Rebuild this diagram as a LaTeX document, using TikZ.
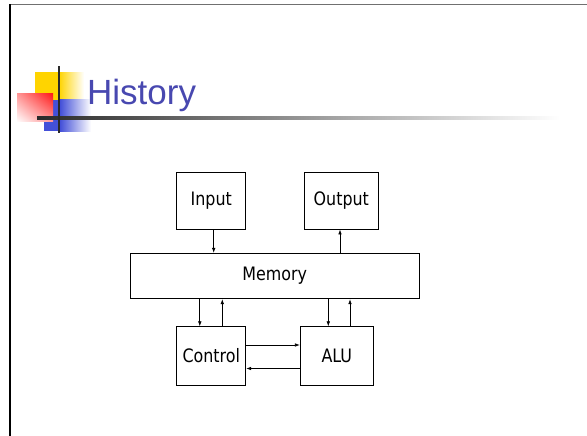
\documentclass[tikz,border=0pt]{standalone}
\usepackage{fontspec}
\setmainfont{DejaVu Sans}[FakeStretch=0.86]
\newfontfamily\titlefont{Liberation Sans}
\usepackage{xcolor}
\usepackage{tikz}
\usetikzlibrary{arrows.meta,positioning,calc,shadings}
\definecolor{cTitle}{HTML}{4848B0}
\definecolor{cYellow}{HTML}{FFD400}
\definecolor{cRed}{HTML}{FF1A1A}
\definecolor{cBlue}{HTML}{4450D8}
\definecolor{cRule}{HTML}{2A2A2A}
\definecolor{cFrame}{HTML}{707070}
\tikzset{
  unit/.style={draw=black,line width=0.8pt,fill=white,align=center,inner sep=0pt,font=\fontsize{18.5}{22}\selectfont},
  arr/.style={-{Latex[length=5pt,width=3.6pt]},line width=0.7pt},
}

\begin{document}
\begin{tikzpicture}[x=1pt,y=-1pt]
  \useasboundingbox (0,0) rectangle (587,436);
  % slide frame
  \draw[cFrame,line width=1.8pt] (9.5,4.5) -- (587,4.5);
  \draw[black,line width=1.3pt] (10,4.5) -- (10,436);
  % title ornament
  \fill[cYellow] (35,72.5) rectangle (59,100);
  \shade[left color=cYellow,right color=white] (59,72.5) rectangle (84,100);
  \fill[cBlue] (44,100) rectangle (60,131);
  \shade[left color=cBlue,right color=white] (60,100) rectangle (91,131);
  \shade[upper right=cRed,lower left=white,upper left=cRed!45,lower right=cRed!45] (17,94) rectangle (53,122);
  \shade[left color=cRule,right color=white] (37,116.8) rectangle (560,119.6);
  \fill[cRule] (58,66) rectangle (60.2,133);
  \node[anchor=base west,inner sep=0pt,text=cTitle,font=\titlefont\fontsize{35}{40}\selectfont] (title) at (87,104) {History};
  % units
  \node[unit,minimum width=69pt,minimum height=57pt] (inp) at (211.3,200.5) {Input};
  \node[unit,minimum width=74pt,minimum height=57pt] (outp) at (341.3,200.5) {Output};
  \node[unit,minimum width=289pt,minimum height=45.5pt] (mem) at (274.7,276) {Memory};
  \node[unit,minimum width=69pt,minimum height=58.5pt] (ctl) at (211.3,356) {Control};
  \node[unit,minimum width=73pt,minimum height=58.5pt] (alu) at (336.8,356) {ALU};
  % connectors
  \draw[arr] ([xshift=2.4pt]inp.south) -- ([xshift=2.4pt]inp.south |- mem.north);
  \draw[arr] ([xshift=-1.3pt]outp.south |- mem.north) -- ([xshift=-1.3pt]outp.south);
  \draw[arr] ([xshift=-11.5pt]ctl.north |- mem.south) -- ([xshift=-11.5pt]ctl.north);
  \draw[arr] ([xshift=11pt]ctl.north) -- ([xshift=11pt]ctl.north |- mem.south);
  \draw[arr] ([xshift=-8.5pt]alu.north |- mem.south) -- ([xshift=-8.5pt]alu.north);
  \draw[arr] ([xshift=13.2pt]alu.north) -- ([xshift=13.2pt]alu.north |- mem.south);
  \draw[arr] ([yshift=11pt]ctl.east) -- ([yshift=11pt]ctl.east -| alu.west);
  \draw[arr] ([yshift=-12.5pt]alu.west) -- ([yshift=-12.5pt]alu.west -| ctl.east);
\end{tikzpicture}
\end{document}
